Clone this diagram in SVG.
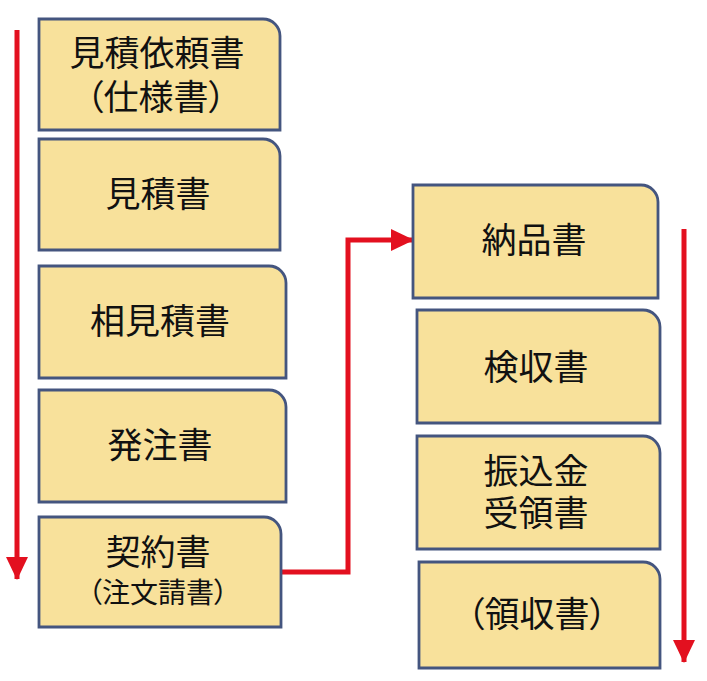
<svg xmlns="http://www.w3.org/2000/svg" width="707" height="681" viewBox="0 0 707 681">
<style>
.box{fill:#F8E19B;stroke:#44557F;stroke-width:2.8}
.t{font-family:"Noto Sans CJK JP","Noto Sans CJK SC",sans-serif;font-size:35px;fill:#111;text-anchor:middle;dominant-baseline:central;font-feature-settings:"palt"}
.s{font-size:28px}
.red{fill:none;stroke:#E3101F;stroke-width:5}
</style>
<defs>
<marker id="ah" markerUnits="userSpaceOnUse" markerWidth="24" markerHeight="24" viewBox="0 0 24 24" refX="22" refY="12" orient="auto">
<path d="M0,1 L23,12 L0,23 Z" fill="#E3101F"/>
</marker>
</defs>
<rect width="707" height="681" fill="#fff"/>
<g id="connectors">
<path class="red" d="M17,30 V579" marker-end="url(#ah)"/>
<path class="red" d="M281,572 H348 V240 H413" marker-end="url(#ah)"/>
<path class="red" d="M684,229 V662" marker-end="url(#ah)"/>
</g>
<g id="n1"><path class="box" d="M39,19 H263 A17,17 0 0 1 280,36 V130 H39 Z"/>
<text class="t" x="157" y="50">見積依頼書<tspan x="156" dy="44">（仕様書）</tspan></text></g>
<g id="n2"><path class="box" d="M39,139 H263 A17,17 0 0 1 280,156 V250 H39 Z"/>
<text class="t" x="158" y="191">見積書</text></g>
<g id="n3"><path class="box" d="M39,266 H269 A17,17 0 0 1 286,283 V378 H39 Z"/>
<text class="t" x="160" y="318">相見積書</text></g>
<g id="n4"><path class="box" d="M39,390 H269 A17,17 0 0 1 286,407 V502 H39 Z"/>
<text class="t" x="160" y="442">発注書</text></g>
<g id="n5"><path class="box" d="M39,517 H264 A17,17 0 0 1 281,534 V627 H39 Z"/>
<text class="t" x="158" y="549">契約書<tspan class="s" x="158" dy="42">（注文請書）</tspan></text></g>
<g id="n6"><path class="box" d="M413,185 H641 A17,17 0 0 1 658,202 V298 H413 Z"/>
<text class="t" x="534" y="237">納品書</text></g>
<g id="n7"><path class="box" d="M417,310 H643 A17,17 0 0 1 660,327 V423 H417 Z"/>
<text class="t" x="536" y="364">検収書</text></g>
<g id="n8"><path class="box" d="M417,436 H643 A17,17 0 0 1 660,453 V549 H417 Z"/>
<text class="t" x="536" y="468">振込金<tspan x="536" dy="42">受領書</tspan></text></g>
<g id="n9"><path class="box" d="M419,562 H643 A17,17 0 0 1 660,579 V668 H419 Z"/>
<text class="t" x="537" y="611">（領収書）</text></g>
</svg>
